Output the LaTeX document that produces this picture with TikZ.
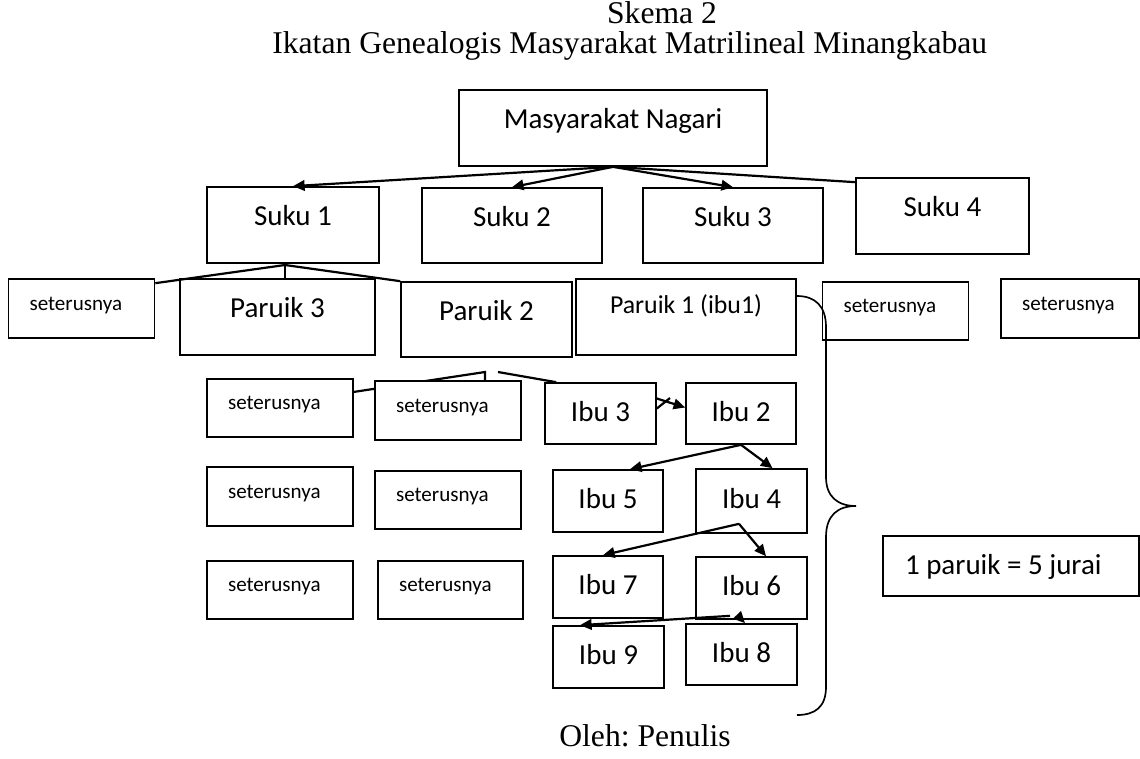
\documentclass[tikz,border=0pt]{standalone}
\usepackage{fontspec}
\setmainfont{Liberation Serif}
\newfontfamily\carlito{Carlito}
\usetikzlibrary{arrows.meta,backgrounds}
\frenchspacing

\begin{document}
\begin{tikzpicture}[x=0.02cm,y=-0.02cm,
  kotak/.style={draw,line width=0.95pt,fill=white,inner sep=0pt},
  besar/.style={kotak,font=\carlito\fontsize{16.5}{18}\selectfont,text height=11pt,text depth=10pt},
  ibu/.style={kotak,font=\carlito\fontsize{16.5}{18}\selectfont,text height=11pt,text depth=2pt,minimum width=2.2cm,minimum height=1.24cm},
  dst/.style={kotak,font=\carlito\fontsize{12}{14}\selectfont,align=left,text width=2.08cm,inner xsep=0.42cm,text height=8pt,text depth=6pt,minimum height=1.17cm},
  judulteks/.style={font=\fontsize{18}{20}\selectfont,inner sep=0pt},
  panah/.style={-{Triangle[length=6.6pt,width=6pt]},line width=1.25pt},
  garis/.style={line width=1.25pt}]

 \useasboundingbox (0,0) rectangle (1140,758);

 % judul skema
 \node[judulteks,anchor=base] (skema) at (662,23) {Skema 2};
 \node[judulteks,anchor=base west] (judul) at (272,53) {Ikatan Genealogis Masyarakat Matrilineal Minangkabau};
 \node[judulteks,anchor=base] (oleh) at (645,746) {Oleh: Penulis};

 % nagari dan suku
 \node[besar,minimum width=6.16cm,minimum height=1.52cm] (nagari) at (613,128) {Masyarakat Nagari};
 \node[besar,minimum width=3.44cm,minimum height=1.52cm] (suku1) at (293,225) {Suku 1};
 \node[besar,minimum width=3.6cm,minimum height=1.5cm] (suku2) at (512,225.5) {Suku 2};
 \node[besar,minimum width=3.6cm,minimum height=1.5cm] (suku3) at (733,225.5) {Suku 3};
 \node[besar,minimum width=3.46cm,minimum height=1.52cm] (suku4) at (942.5,216) {Suku 4};

 % paruik
 \node[dst,minimum height=1.18cm] (dst0) at (81.5,308.5) {seterusnya};
 \node[besar,minimum width=3.9cm,minimum height=1.52cm] (paruik3) at (277.5,317) {Paruik 3};
 \node[besar,minimum width=3.42cm,minimum height=1.5cm] (paruik2) at (486.5,319.5) {Paruik 2};
 \node[besar,font=\carlito\fontsize{14.7}{16}\selectfont,text depth=15pt,minimum width=4.4cm,minimum height=1.52cm] (paruik1) at (686,317) {Paruik 1 (ibu1)};
 \node[dst] (dst1) at (895.5,311) {seterusnya};
 \node[dst,text width=1.92cm,minimum height=1.18cm] (dst2) at (1070,308.5) {seterusnya};

 % seterusnya di bawah paruik
 \node[dst] (dstA1) at (280,408) {seterusnya};
 \node[dst,minimum height=1.18cm] (dstB1) at (448,410.5) {seterusnya};
 \node[dst,minimum height=1.18cm] (dstA2) at (280,496.5) {seterusnya};
 \node[dst] (dstB2) at (448,500) {seterusnya};
 \node[dst] (dstA3) at (280,590) {seterusnya};
 \node[dst,text width=2.06cm] (dstB3) at (450.5,590) {seterusnya};

 % ibu
 \node[ibu,minimum width=2.22cm,minimum height=1.22cm] (ibu3) at (600.5,413.5) {Ibu 3};
 \node[ibu,minimum height=1.22cm] (ibu2) at (741,413.5) {Ibu 2};
 \node[ibu] (ibu5) at (608,501) {Ibu 5};
 \node[ibu,minimum width=2.22cm,minimum height=1.28cm] (ibu4) at (751.5,501) {Ibu 4};
 \node[ibu] (ibu7) at (608,587) {Ibu 7};
 \node[ibu,minimum width=2.22cm] (ibu6) at (751.5,588) {Ibu 6};
 \node[ibu,minimum width=2.22cm] (ibu9) at (608.5,657) {Ibu 9};
 \node[ibu,minimum width=2.22cm,minimum height=1.22cm] (ibu8) at (741.5,654.5) {Ibu 8};

 \node[kotak,font=\carlito\fontsize{16.5}{18}\selectfont,inner xsep=0.44cm,text height=11pt,text depth=1pt,minimum height=1.2cm] (jurai) at (1011,566) {\makebox[4.24cm][l]{1 paruik = 5 jurai}};

 % garis nagari ke suku
 \draw[panah] (nagari.south) -- (suku1.north);
 \draw[panah] (nagari.south) -- (suku2.north);
 \draw[panah] (nagari.south) -- (suku3.north);
 \draw[garis] (nagari.south) -- ([yshift=-0.1cm]suku4.north west);

 % suku 1 ke paruik
 \coordinate (garpu1) at (285,265);
 \draw[garis] (garpu1) -- (garpu1 |- paruik3.north);
 \draw[garis] ([yshift=-0.1cm]dst0.north east) -- (garpu1) -- (paruik2.north west);

 % paruik 2 ke bawah
 \coordinate (garpu2) at (485,372);
 \coordinate (garpu3) at (498,372);
 \begin{scope}[on background layer]
  \draw[garis] ([yshift=-0.28cm]dstA1.north east) -- (garpu2) -- (garpu2 |- dstB1.north);
 \end{scope}
 \draw[garis] (garpu3) -- ([xshift=0.24cm]ibu3.north west);

 % jurai ibu
 \coordinate (tekuk) at (670,398);
 \draw[panah] ([yshift=0.3cm]ibu3.east) -- ([yshift=0.12cm]ibu2.west);
 \draw[garis] ([yshift=0.1cm]ibu3.east) -- (tekuk);
 \draw[panah] (ibu2.south) -- ([xshift=0.44cm]ibu5.north);
 \draw[panah] (ibu2.south) -- ([xshift=0.42cm]ibu4.north);
 \draw[panah] ([xshift=-0.25cm,yshift=0.2cm]ibu4.south) -- ([xshift=-0.1cm]ibu7.north);
 \draw[panah] ([xshift=-0.25cm,yshift=0.2cm]ibu4.south) -- ([xshift=0.29cm]ibu6.north);
 \draw[panah] ([xshift=-0.43cm,yshift=0.08cm]ibu6.south) -- ([xshift=-0.57cm]ibu9.north);
 \draw[panah] ([xshift=-0.27cm,yshift=0.08cm]ibu6.south) -- ([xshift=0.07cm]ibu8.north);

 % kurung kurawal
 \draw[line width=0.95pt] (797,296) .. controls (815,296) and (826,306) .. (826,327) -- (826,477)
   .. controls (826,497) and (838,506) .. (856,506) .. controls (838,506) and (826,515) .. (826,537)
   -- (826,687) .. controls (826,707) and (815,715) .. (797,715);
\end{tikzpicture}
\end{document}
